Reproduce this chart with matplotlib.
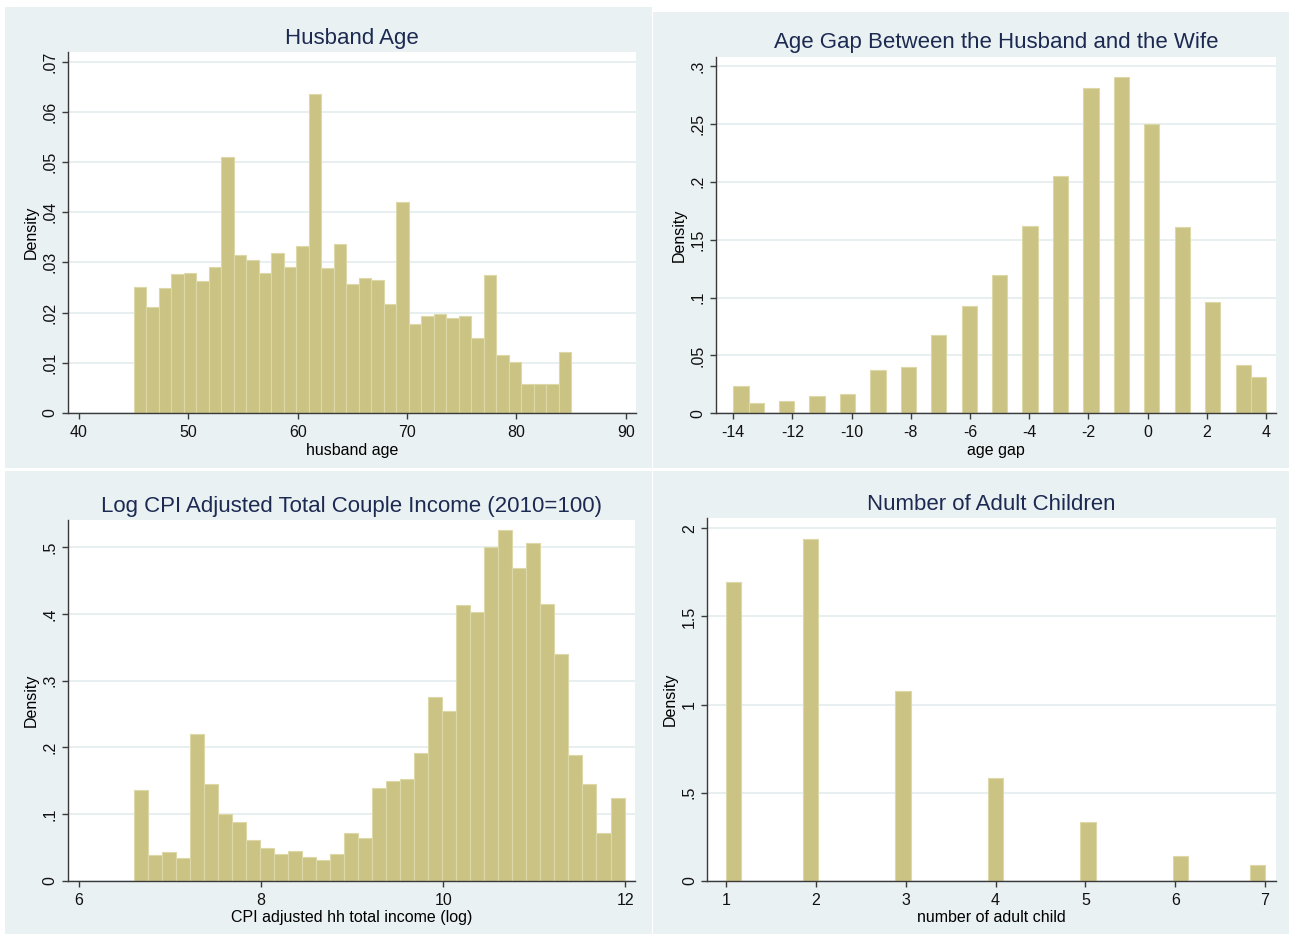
import numpy as np
import matplotlib
matplotlib.use("Agg")
import matplotlib.pyplot as plt
from matplotlib.patches import Rectangle
from matplotlib.ticker import FixedLocator, FuncFormatter

plt.rcParams['font.family'] = ['Liberation Sans', 'DejaVu Sans']

# ---------------------------------------------------------------
# data (density per histogram bin, 35 bins)
# ---------------------------------------------------------------
n_bins = 35

# husband age, bins over 45..85
age_range = (45, 85)
age_density = [0.0250, 0.0211, 0.0249, 0.0276, 0.0278, 0.0262, 0.0291, 0.0510,
               0.0314, 0.0305, 0.0278, 0.0319, 0.0291, 0.0332, 0.0635, 0.0289,
               0.0337, 0.0257, 0.0269, 0.0264, 0.0218, 0.0421, 0.0177, 0.0193,
               0.0197, 0.0189, 0.0193, 0.0150, 0.0275, 0.0116, 0.0102, 0.0057,
               0.0057, 0.0057, 0.0122]

# age gap (integer values), bins over -14..4
gap_range = (-14, 4)
gap_values = [-14, -13, -12, -11, -10, -9, -8, -7, -6, -5, -4, -3, -2, -1,
              0, 1, 2, 3, 4]
gap_density = [0.0236, 0.0089, 0.0104, 0.0147, 0.0170, 0.0374, 0.0403, 0.0677,
               0.0924, 0.1195, 0.1615, 0.2050, 0.2807, 0.2902, 0.2502, 0.1610,
               0.0959, 0.0418, 0.0314]

# log CPI adjusted couple income, bins over 6.60..11.99
income_range = (6.60, 11.99)
income_density = [0.1355, 0.0385, 0.0425, 0.0340, 0.2200, 0.1455, 0.1000, 0.0880,
                  0.0610, 0.0490, 0.0405, 0.0445, 0.0355, 0.0305, 0.0405, 0.0715,
                  0.0640, 0.1385, 0.1490, 0.1520, 0.1910, 0.2755, 0.2540, 0.4130,
                  0.4025, 0.5005, 0.5260, 0.4685, 0.5060, 0.4145, 0.3400, 0.1880,
                  0.1455, 0.0710, 0.1235]

# number of adult children, bins over 1..7
child_range = (1, 7)
child_values = [1, 2, 3, 4, 5, 6, 7]
child_density = [1.695, 1.938, 1.075, 0.585, 0.331, 0.138, 0.091]

# ---------------------------------------------------------------
W, H = 1289, 936
BG = '#EAF1F3'
BAR = '#CBC383'
BAR_EDGE = '#DCD8A8'
TITLE_C = '#1C2A52'
AXIS_C = '#3A3A3A'

fig = plt.figure(figsize=(W / 100, H / 100), dpi=100, facecolor='white')


def px_rect(x0, y0, x1, y1):
    # pixel box (top-left origin) -> figure fraction [l, b, w, h]
    return [x0 / W, 1 - y1 / H, (x1 - x0) / W, (y1 - y0) / H]


# panel backgrounds
for box in [(5, 7, 652, 468), (653, 12, 1289, 468),
            (5, 471, 652, 934), (653, 471, 1289, 934)]:
    l, b, w, h = px_rect(*box)
    fig.add_artist(Rectangle((l, b), w, h, transform=fig.transFigure,
                             facecolor=BG, edgecolor='none', zorder=-1))


def stata_fmt(v, pos):
    s = f"{v:g}"
    if s.startswith("0."):
        s = s[1:]
    return s


def style(ax, title, xlabel, xlim, ylim, xticks, yticks):
    ax.set_facecolor('white')
    ax.set_xlim(*xlim)
    ax.set_ylim(*ylim)
    ax.xaxis.set_major_locator(FixedLocator(xticks))
    ax.yaxis.set_major_locator(FixedLocator(yticks))
    ax.xaxis.set_major_formatter(FuncFormatter(stata_fmt))
    ax.yaxis.set_major_formatter(FuncFormatter(stata_fmt))
    for s in ['top', 'right']:
        ax.spines[s].set_visible(False)
    for s in ['left', 'bottom']:
        ax.spines[s].set_color(AXIS_C)
        ax.spines[s].set_linewidth(1.0)
    ax.tick_params(direction='out', length=4.5, width=1.0, color=AXIS_C,
                   labelsize=11.5, labelcolor='#111111')
    ax.tick_params(axis='x', pad=4)
    ax.tick_params(axis='y', pad=3)
    for lab in ax.get_yticklabels():
        lab.set_rotation(90)
        lab.set_va('center')
    ax.yaxis.grid(True, color='#E4ECEF', linewidth=1.2)
    ax.set_axisbelow(True)
    ax.set_title(title, fontsize=16, color=TITLE_C, pad=6)
    ax.set_xlabel(xlabel, fontsize=11.5, labelpad=2)
    ax.set_ylabel('Density', fontsize=11.5, labelpad=3)


# Husband age
ax1 = fig.add_axes(px_rect(68, 52, 636, 413))
edges = np.linspace(age_range[0], age_range[1], n_bins + 1)
ax1.bar(edges[:-1], age_density, width=np.diff(edges), align='edge',
        color=BAR, edgecolor=BAR_EDGE, linewidth=0.8, zorder=2)
style(ax1, 'Husband Age', 'husband age', (38.99, 90.93), (0, 0.0719),
      [40, 50, 60, 70, 80, 90], [0, .01, .02, .03, .04, .05, .06, .07])

# Age gap
ax2 = fig.add_axes(px_rect(716, 56.7, 1276, 413.3))
ax2.hist(gap_values, bins=np.linspace(gap_range[0], gap_range[1], n_bins + 1),
         weights=gap_density, color=BAR, edgecolor=BAR_EDGE, linewidth=0.8,
         zorder=2)
style(ax2, 'Age Gap Between the Husband and the Wife', 'age gap',
      (-14.585, 4.338), (0, 0.308), list(range(-14, 5, 2)),
      [0, .05, .1, .15, .2, .25, .3])

# Income
ax3 = fig.add_axes(px_rect(68, 520, 635, 880.7))
edges = np.linspace(income_range[0], income_range[1], n_bins + 1)
ax3.bar(edges[:-1], income_density, width=np.diff(edges), align='edge',
        color=BAR, edgecolor=BAR_EDGE, linewidth=0.8, zorder=2)
style(ax3, 'Log CPI Adjusted Total Couple Income (2010=100)',
      'CPI adjusted hh total income (log)', (5.878, 12.105), (0, 0.541),
      [6, 8, 10, 12], [0, .1, .2, .3, .4, .5])

# Adult children
ax4 = fig.add_axes(px_rect(707.3, 518.3, 1276, 880.7))
ax4.hist(child_values, bins=np.linspace(child_range[0], child_range[1], n_bins + 1),
         weights=child_density, color=BAR, edgecolor=BAR_EDGE, linewidth=0.8,
         zorder=2)
style(ax4, 'Number of Adult Children', 'number of adult child',
      (0.792, 7.122), (0, 2.057), [1, 2, 3, 4, 5, 6, 7], [0, .5, 1, 1.5, 2])

fig.savefig('out.png', dpi=100, facecolor='white')
